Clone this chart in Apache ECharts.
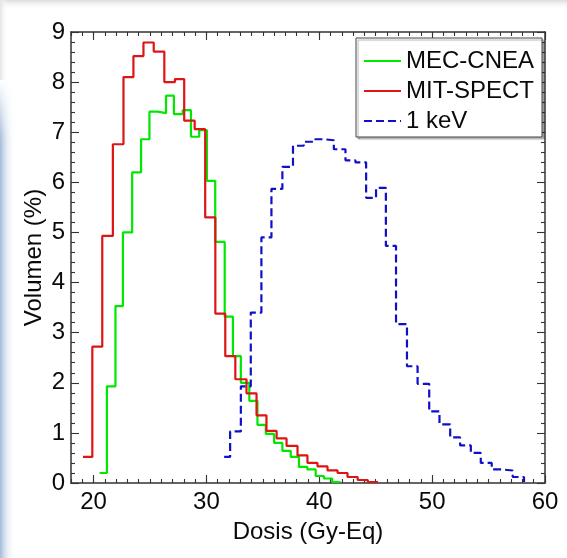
<!DOCTYPE html>
<html><head><meta charset="utf-8">
<script src="https://cdn.jsdelivr.net/npm/echarts@6/dist/echarts.min.js"></script>
<style>html,body{margin:0;padding:0;background:#fff}#c{width:567px;height:558px}</style>
</head><body><div id="c"></div>
<script>
// Bin left edges (last entry = right edge of last bin) and values (%)
const greenX = [20.53, 21.18, 21.94, 22.60, 23.42, 24.21, 24.95, 25.69, 26.42, 27.12, 27.90, 28.63, 29.36, 30.04, 30.78, 31.62, 32.35, 33.05, 33.80, 34.52, 35.26, 36.00, 36.73, 37.47, 38.20, 38.94, 39.68, 40.41, 41.15, 41.88];
const greenY = [0.20, 1.93, 3.53, 5.00, 6.20, 6.86, 7.41, 7.38, 7.73, 7.36, 7.44, 6.91, 7.04, 6.03, 4.81, 3.32, 2.53, 2.00, 1.64, 1.16, 0.98, 0.80, 0.64, 0.52, 0.32, 0.27, 0.14, 0.09, 0.02, 0.02];

const redX = [19.06, 19.89, 20.77, 21.71, 22.65, 23.53, 24.42, 25.33, 26.27, 27.21, 28.03, 28.96, 29.89, 30.79, 31.67, 32.56, 33.55, 34.44, 35.32, 36.22, 37.10, 38.07, 38.95, 39.84, 40.73, 41.62, 42.50, 43.40, 44.30, 45.20];
const redY = [0.52, 2.72, 4.93, 6.76, 8.10, 8.52, 8.79, 8.61, 8.00, 8.06, 7.23, 7.06, 5.30, 3.38, 2.53, 2.07, 1.79, 1.35, 1.04, 0.89, 0.74, 0.55, 0.40, 0.33, 0.25, 0.20, 0.12, 0.06, 0.02, 0.02];

const blueX = [31.57, 32.10, 33.05, 33.93, 34.87, 35.76, 36.73, 37.67, 38.62, 39.55, 40.42, 41.29, 42.32, 43.20, 44.15, 45.03, 45.90, 46.80, 47.77, 48.71, 49.74, 50.65, 51.60, 52.48, 53.43, 54.31, 55.28, 56.20, 57.14, 58.14];
const blueY = [0.52, 1.03, 1.93, 3.40, 4.90, 5.87, 6.31, 6.73, 6.81, 6.86, 6.84, 6.66, 6.44, 6.40, 5.69, 5.89, 4.73, 3.17, 2.33, 1.98, 1.43, 1.17, 0.91, 0.75, 0.60, 0.40, 0.27, 0.25, 0.12, 0.02];

const seriesNames = ['MEC-CNEA', 'MIT-SPECT', '1 keV'];
const xMajor = [20, 30, 40, 50, 60];
const xMinor = [18,19,20,21,22,23,24,25,26,27,28,29,30,31,32,33,34,35,36,37,38,39,40,41,42,43,44,45,46,47,48,49,50,51,52,53,54,55,56,57,58,59,60];
const xTitle = 'Dosis (Gy-Eq)';
const yTitle = 'Volumen (%)';

function pairs(xs, ys) { return xs.map((x, i) => [x, ys[i]]); }

const FONT = '"Liberation Sans", Arial, sans-serif';
const AX = '#333';
const TXT = '#0a0a0a';

function xAx(pos, major, withLabels) {
  const o = {
    type: 'value', min: 18, max: 60, position: pos, gridIndex: 0,
    axisLine: { show: major, onZero: false, lineStyle: { color: AX, width: 1.5 } },
    axisTick: { show: true, inside: true, length: major ? 8 : 4, customValues: major ? xMajor : xMinor, lineStyle: { color: AX, width: 1.1 } },
    axisLabel: { show: !!withLabels, customValues: xMajor, fontSize: 24, color: TXT, fontFamily: FONT, margin: 7 },
    splitLine: { show: false }
  };
  if (withLabels) {
    o.name = xTitle; o.nameLocation = 'middle'; o.nameGap = 37; o.nameMoveOverlap = false;
    o.nameTextStyle = { fontSize: 24, color: TXT, fontFamily: FONT };
  }
  return o;
}
function yAx(pos, withLabels) {
  const o = {
    type: 'value', min: 0, max: 9, interval: 1, position: pos, gridIndex: 0,
    axisLine: { show: true, onZero: false, lineStyle: { color: AX, width: 1.5 } },
    axisTick: { show: true, inside: true, length: 8, lineStyle: { color: AX, width: 1.1 } },
    minorTick: { show: true, splitNumber: 5, length: 4, lineStyle: { color: AX, width: 1.1 } },
    axisLabel: { show: !!withLabels, fontSize: 24, color: TXT, fontFamily: FONT, margin: 6 },
    splitLine: { show: false }
  };
  if (withLabels) {
    o.name = yTitle; o.nameLocation = 'middle'; o.nameGap = 25; o.nameRotate = 90; o.nameMoveOverlap = false;
    o.nameTextStyle = { fontSize: 24, color: TXT, fontFamily: FONT };
  }
  return o;
}

const chart = echarts.init(document.getElementById('c'), null, { renderer: 'canvas' });
chart.setOption({
  animation: false,
  backgroundColor: '#ffffff',
  graphic: [
    { type: 'rect', silent: true, z: -10, shape: { x: 0, y: 0, width: 567, height: 10 },
      style: { fill: new echarts.graphic.LinearGradient(0, 0, 0, 1, [{ offset: 0, color: '#dcdcdc' }, { offset: 1, color: 'rgba(255,255,255,0)' }]) } },
    { type: 'rect', silent: true, z: -10, shape: { x: 0, y: 0, width: 8, height: 558 },
      style: { fill: new echarts.graphic.LinearGradient(0, 0, 1, 0, [{ offset: 0, color: '#e4e4e4' }, { offset: 1, color: 'rgba(255,255,255,0)' }]) } },
    { type: 'rect', silent: true, z: -9, shape: { x: 0, y: 80, width: 16, height: 478 },
      style: { fill: new echarts.graphic.LinearGradient(0, 0, 1, 0, [{ offset: 0, color: 'rgba(120,160,210,0.6)' }, { offset: 1, color: 'rgba(255,255,255,0)' }]) } },
    { type: 'rect', silent: true, z: -8, shape: { x: 0, y: 80, width: 16, height: 60 },
      style: { fill: new echarts.graphic.LinearGradient(0, 0, 0, 1, [{ offset: 0, color: '#ffffff' }, { offset: 1, color: 'rgba(255,255,255,0)' }]) } }
  ],
  grid: { left: 71, right: 22, top: 32, bottom: 75 },
  legend: {
    data: seriesNames, orient: 'vertical', left: 356, top: 38,
    itemWidth: 37, itemHeight: 22, itemGap: 6,
    padding: [11, 8, 4, 7],
    backgroundColor: '#fff', borderColor: '#444', borderWidth: 1,
    shadowColor: 'rgba(0,0,0,0.3)', shadowOffsetX: 2, shadowOffsetY: 2, shadowBlur: 1,
    itemStyle: { opacity: 0 },
    textStyle: { fontSize: 24, color: TXT, fontFamily: FONT, lineHeight: 24 }
  },
  xAxis: [xAx('bottom', true, true), xAx('bottom', false, false), xAx('top', true, false), xAx('top', false, false)],
  yAxis: [yAx('left', true), yAx('right', false)],
  series: [
    { name: seriesNames[0], type: 'line', step: 'end', data: pairs(greenX, greenY), symbol: 'none',
      xAxisIndex: 0, yAxisIndex: 0, lineStyle: { color: '#00e800', width: 2.2 }, itemStyle: { color: '#00e800' } },
    { name: seriesNames[1], type: 'line', step: 'end', data: pairs(redX, redY), symbol: 'none',
      xAxisIndex: 0, yAxisIndex: 0, lineStyle: { color: '#dd1515', width: 2.2 }, itemStyle: { color: '#dd1515' } },
    { name: seriesNames[2], type: 'line', step: 'end', data: pairs(blueX, blueY), symbol: 'none',
      xAxisIndex: 0, yAxisIndex: 0, lineStyle: { color: '#1010c8', width: 2.2, type: [8, 4] }, itemStyle: { color: '#1010c8' } }
  ]
});
</script>
</body></html>
